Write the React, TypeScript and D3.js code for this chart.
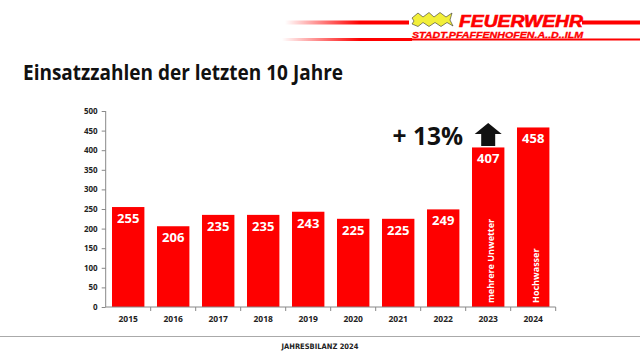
import React, { useRef, useEffect } from "react";
import * as d3 from "d3";

// chart data
const years = ["2015", "2016", "2017", "2018", "2019", "2020", "2021", "2022", "2023", "2024"];
const einsaetze = [255, 206, 235, 235, 243, 225, 225, 249, 407, 458];
const barNotes = ["", "", "", "", "", "", "", "", "mehrere Unwetter", "Hochwasser"];
const yTicks = [0, 50, 100, 150, 200, 250, 300, 350, 400, 450, 500];

const W = 640;
const H = 360;
const RED = "#fe0000";
const FONT = "'Open Sans', sans-serif";

const App = () => {
  const svgRef = useRef<SVGSVGElement>(null);

  useEffect(() => {
    const svg = d3.select(svgRef.current);
    svg.selectAll("*").remove();

    // header lines + logo
    const defs = svg.append("defs");
    const grad = defs.append("linearGradient").attr("id", "fade");
    grad.append("stop").attr("offset", "0").attr("stop-color", RED).attr("stop-opacity", 0);
    grad.append("stop").attr("offset", "0.6").attr("stop-color", RED).attr("stop-opacity", 1);

    svg.append("rect").attr("x", 285).attr("y", 20.5).attr("width", 124).attr("height", 4).attr("fill", "url(#fade)");
    svg.append("rect").attr("x", 582).attr("y", 20.5).attr("width", 58).attr("height", 4).attr("fill", RED);
    svg.append("rect").attr("x", 282).attr("y", 38).attr("width", 130).attr("height", 3).attr("fill", "url(#fade)");
    svg.append("rect").attr("x", 410).attr("y", 38.5).attr("width", 230).attr("height", 2).attr("fill", RED);

    // wave logo
    svg.append("path")
      .attr("d", "M412,18 L418,13 L423,17 L429,12.5 L434,17 L440,12.5 L446,17 L452,13 L450,20 L453,26 L447,22.5 L441,26.5 L435,22.5 L429,26.5 L423,22.5 L418,26.5 L412,24 L414,21 Z")
      .attr("fill", "#f2ef3a")
      .attr("stroke", "#333")
      .attr("stroke-width", 0.6);

    svg.append("text")
      .attr("x", 459).attr("y", 26.5)
      .attr("font-family", "'Liberation Sans', sans-serif")
      .attr("font-weight", 900).attr("font-style", "italic")
      .attr("font-size", 16)
      .attr("textLength", 124).attr("lengthAdjust", "spacingAndGlyphs")
      .attr("fill", RED)
      .attr("stroke", RED).attr("stroke-width", 0.6)
      .text("FEUERWEHR");

    svg.append("text")
      .attr("x", 412).attr("y", 38)
      .attr("font-family", "'Liberation Sans', sans-serif")
      .attr("font-weight", 900).attr("font-style", "italic")
      .attr("font-size", 8.5)
      .attr("textLength", 171).attr("lengthAdjust", "spacingAndGlyphs")
      .attr("fill", RED)
      .attr("stroke", RED).attr("stroke-width", 0.3)
      .text("STADT.PFAFFENHOFEN.A..D..ILM");

    // title
    svg.append("text")
      .attr("x", 23).attr("y", 80)
      .attr("font-family", FONT).attr("font-weight", 700)
      .attr("font-size", 20.5)
      .attr("textLength", 320).attr("lengthAdjust", "spacingAndGlyphs")
      .attr("fill", "#111")
      .text("Einsatzzahlen der letzten 10 Jahre");

    // scales
    const xScale = d3.scaleBand().domain(years).range([105.7, 555.7]).paddingInner(0.28).paddingOuter(0.14);
    const yScale = d3.scaleLinear().domain([0, 500]).range([307, 111]);

    // bars
    const bars = svg.append("g");
    bars.selectAll("rect")
      .data(years)
      .enter()
      .append("rect")
      .attr("x", d => xScale(d)!)
      .attr("y", (_, i) => yScale(einsaetze[i]))
      .attr("width", xScale.bandwidth())
      .attr("height", (_, i) => yScale(0) - yScale(einsaetze[i]))
      .attr("fill", RED);

    bars.selectAll("text.val")
      .data(years)
      .enter()
      .append("text")
      .attr("class", "val")
      .attr("x", d => xScale(d)! + xScale.bandwidth() / 2)
      .attr("y", (_, i) => yScale(einsaetze[i]) + 16)
      .attr("text-anchor", "middle")
      .attr("font-family", FONT).attr("font-weight", 700)
      .attr("font-size", 13)
      .attr("fill", "#fff")
      .text((_, i) => einsaetze[i]);

    // rotated notes inside bars
    years.forEach((d, i) => {
      if (!barNotes[i]) return;
      const cx = xScale(d)! + xScale.bandwidth() / 2 + 6;
      svg.append("text")
        .attr("transform", `translate(${cx},${yScale(0) - 4}) rotate(-90)`)
        .attr("font-family", FONT).attr("font-weight", 700)
        .attr("font-size", 9)
        .attr("fill", "#fff")
        .text(barNotes[i]);
    });

    // y axis
    const yAxis = d3.axisLeft(yScale).tickValues(yTicks).tickSize(4).tickPadding(4);
    const yAxisSvg = svg.append("g").attr("transform", "translate(105.7,0)").call(yAxis);
    yAxisSvg.select(".domain").attr("stroke", "#888").attr("d", "M0,111V307");
    yAxisSvg.selectAll(".tick line").attr("stroke", "#888");
    yAxisSvg.selectAll(".tick text")
      .attr("font-family", FONT).attr("font-weight", 700).attr("font-size", 8).attr("fill", "#222");

    // x axis
    const xAxis = d3.axisBottom(xScale).tickSize(0).tickPadding(9);
    const xAxisSvg = svg.append("g").attr("transform", "translate(0,307)").call(xAxis);
    xAxisSvg.select(".domain").attr("stroke", "#888").attr("d", "M105.7,0H555.7");
    xAxisSvg.selectAll(".tick text")
      .attr("font-family", FONT).attr("font-weight", 700).attr("font-size", 8.5).attr("fill", "#222");
    const step = xScale.step();
    xAxisSvg.selectAll("line.sep")
      .data(d3.range(1, years.length + 1))
      .enter()
      .append("line")
      .attr("class", "sep")
      .attr("x1", i => 105.7 + i * step).attr("x2", i => 105.7 + i * step)
      .attr("y1", 0).attr("y2", 4)
      .attr("stroke", "#888");

    // +13% annotation with arrow
    const ax = xScale("2023")! + xScale.bandwidth() / 2;
    svg.append("text")
      .attr("x", 463).attr("y", 145)
      .attr("text-anchor", "end")
      .attr("font-family", FONT).attr("font-weight", 700)
      .attr("font-size", 24.5)
      .attr("fill", "#111")
      .text("+ 13%");
    svg.append("path")
      .attr("d", `M${ax},123 L${ax + 13.5},134 L${ax + 7},134 L${ax + 7},146 L${ax - 7},146 L${ax - 7},134 L${ax - 13.5},134 Z`)
      .attr("fill", "#111");

    // footer
    svg.append("line").attr("x1", 0).attr("x2", W).attr("y1", 336.5).attr("y2", 336.5)
      .attr("stroke", "#aaa").attr("stroke-width", 1);
    svg.append("text")
      .attr("x", 320).attr("y", 349)
      .attr("text-anchor", "middle")
      .attr("font-family", "'Liberation Sans Narrow', 'DejaVu Sans Condensed', sans-serif")
      .attr("font-weight", 700).attr("font-size", 7.5)
      .attr("fill", "#222")
      .text("JAHRESBILANZ 2024");
  }, []);

  return (
    <svg ref={svgRef} width={W} height={H}
      style={{ position: "absolute", left: 0, top: 0, background: "#fff" }} />
  );
};

export default App;
